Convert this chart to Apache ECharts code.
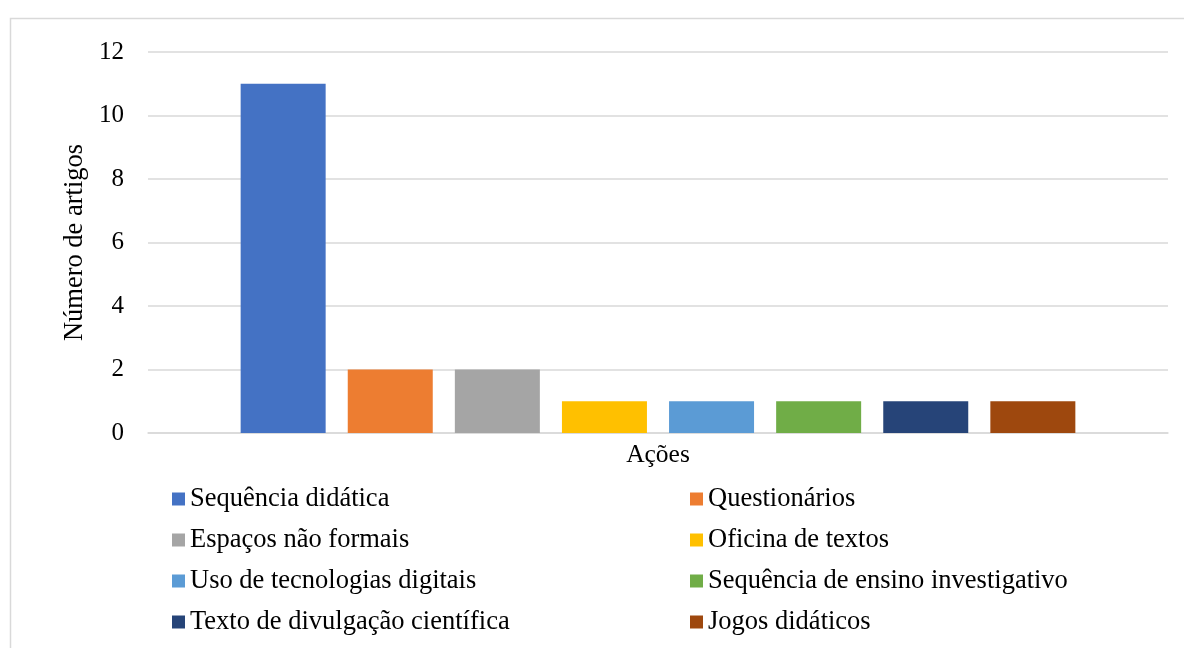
<!DOCTYPE html>
<html>
<head>
<meta charset="utf-8">
<script src="https://cdn.jsdelivr.net/npm/echarts@6/dist/echarts.min.js"></script>
<style>html,body{margin:0;padding:0;background:#fff}#c{width:1184px;height:648px}</style>
</head>
<body>
<div id="c"></div>
<script>
const categories = ['Ações'];
const seriesNames = ['Sequência didática','Questionários','Espaços não formais','Oficina de textos','Uso de tecnologias digitais','Sequência de ensino investigativo','Texto de divulgação científica','Jogos didáticos'];
const seriesValues = [11, 2, 2, 1, 1, 1, 1, 1];
const colors = ['#4472C4','#ED7D31','#A5A5A5','#FFC000','#5B9BD5','#70AD47','#264478','#9E480E'];
const yTicks = [0, 2, 4, 6, 8, 10, 12];

const font = '"Liberation Serif", "Times New Roman", serif';
const chart = echarts.init(document.getElementById('c'));
const legendBase = {
  orient: 'vertical', top: 480, icon: 'rect', itemWidth: 13, itemHeight: 13, itemGap: 13,
  textStyle: { fontFamily: font, fontSize: 26.5, color: '#000', lineHeight: 28 },
  selectedMode: false
};
chart.setOption({
  animation: false,
  color: colors,
  graphic: [{ type: 'rect', shape: { x: 10.5, y: 18.5, width: 1300, height: 800 }, style: { fill: null, stroke: '#d9d9d9', lineWidth: 1.5 }, silent: true }],
  grid: { left: 148, right: 16, top: 52, bottom: 215 },
  legend: [
    Object.assign({}, legendBase, { left: 167, data: seriesNames.filter((n, i) => i % 2 === 0) }),
    Object.assign({}, legendBase, { left: 685, data: seriesNames.filter((n, i) => i % 2 === 1) })
  ],
  xAxis: {
    type: 'category', data: categories,
    axisLine: { lineStyle: { color: '#d9d9d9', width: 1.5 } },
    axisTick: { show: false },
    axisLabel: { fontFamily: font, fontSize: 25.5, color: '#000', margin: 9 }
  },
  yAxis: {
    type: 'value', min: yTicks[0], max: yTicks[yTicks.length - 1], interval: 2,
    name: 'Número de artigos', nameLocation: 'middle', nameGap: 56,
    nameTextStyle: { fontFamily: font, fontSize: 26.5, color: '#000' },
    axisLine: { show: false }, axisTick: { show: false },
    axisLabel: { fontFamily: font, fontSize: 25, color: '#000', margin: 24 },
    splitLine: { lineStyle: { color: '#d9d9d9', width: 1.5 } }
  },
  series: seriesNames.map((n, i) => ({
    type: 'bar', name: n, data: [seriesValues[i]],
    barWidth: 85, barGap: '26%', itemStyle: { color: colors[i] }
  }))
});
</script>
</body>
</html>
